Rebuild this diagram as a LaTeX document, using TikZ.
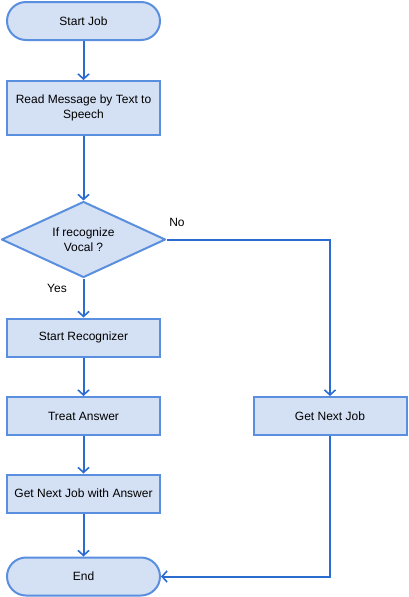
\documentclass[tikz,border=0pt]{standalone}
\usepackage{fontspec}
\setmainfont{Liberation Sans}
\usetikzlibrary{shapes.geometric,arrows.meta}
\definecolor{boxfill}{HTML}{D4E0F4}
\definecolor{boxline}{HTML}{5A8FDF}
\definecolor{conn}{HTML}{2B6CD0}
\begin{document}
\begin{tikzpicture}[x=1pt,y=-1pt,
  font=\fontsize{12}{15}\selectfont,
  proc/.style={draw=boxline,fill=boxfill,line width=2pt,minimum width=153pt,minimum height=38pt,inner sep=2pt,align=center},
  term/.style={proc,rounded corners=19pt},
  decis/.style={diamond,aspect=2.15,draw=boxline,fill=boxfill,line width=2pt,line join=round,minimum width=164pt,minimum height=76pt,inner sep=0pt,align=center},
  conn/.style={draw=conn,line width=2pt,-{Straight Barb[length=5pt,width=11pt,line width=1.6pt]}},
  lbl/.style={font=\fontsize{12}{15}\selectfont}]
\useasboundingbox (0,0) rectangle (408,597);
\node[term] (start) at (83.5,21) {Start Job};
\node[proc,minimum height=54pt] (read) at (83.5,108) {Read Message by Text to\\Speech};
\node[decis] (dec) at (83.5,239.5) {If recognize\\Vocal ?};
\node[proc] (rec) at (83.5,337.5) {Start Recognizer};
\node[proc] (treat) at (83.5,416) {Treat Answer};
\node[proc] (gnja) at (83.5,493.5) {Get Next Job with Answer};
\node[term] (end) at (83.5,576.5) {End};
\node[proc] (gnj) at (330,416) {Get Next Job};
\draw[conn] (start) -- (read);
\draw[conn] (read) -- (dec);
\draw[conn] (dec) -- (rec);
\draw[conn] (rec) -- (treat);
\draw[conn] (treat) -- (gnja);
\draw[conn] (gnja) -- (end);
\draw[conn] (dec.east) -| (gnj.north);
\draw[conn] (gnj.south) |- (end.east);
\node[lbl] (no) at (177,222) {No};
\node[lbl] (yes) at (57,288) {Yes};
\end{tikzpicture}
\end{document}
